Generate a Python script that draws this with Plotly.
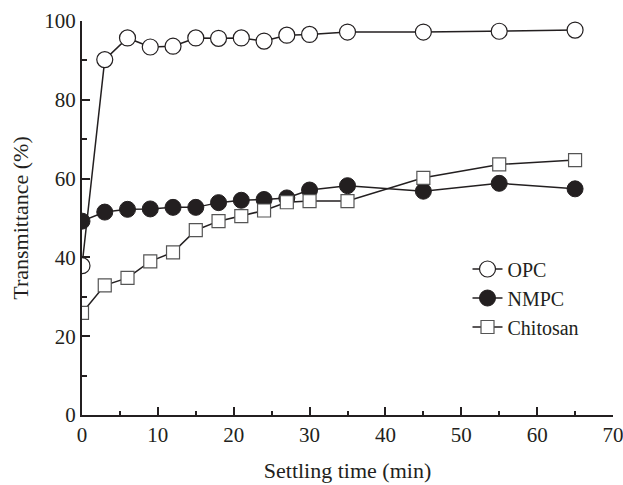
import plotly.graph_objects as go

time_min = [0, 3, 6, 9, 12, 15, 18, 21, 24, 27, 30, 35, 45, 55, 65]
opc = [37.9, 90.2, 95.7, 93.4, 93.6, 95.7, 95.6, 95.7, 94.9, 96.4, 96.6, 97.2, 97.2, 97.4, 97.7]
nmpc = [49.2, 51.5, 52.2, 52.3, 52.7, 52.7, 53.9, 54.5, 54.7, 55.1, 57.1, 58.2, 56.8, 58.8, 57.4]
chitosan = [25.9, 32.9, 34.8, 39.0, 41.3, 46.9, 49.2, 50.5, 51.9, 54.0, 54.3, 54.3, 60.2, 63.6, 64.7]

FONT = "Liberation Serif"
INK = "#231f20"

fig = go.Figure()
fig.add_trace(go.Scatter(
    x=time_min, y=opc, name="OPC", mode="lines+markers",
    line=dict(color=INK, width=1.5),
    marker=dict(symbol="circle", size=16, color="white", line=dict(color=INK, width=1.2)),
))
fig.add_trace(go.Scatter(
    x=time_min, y=nmpc, name="NMPC", mode="lines+markers",
    line=dict(color=INK, width=1.5),
    marker=dict(symbol="circle", size=16, color=INK, line=dict(color=INK, width=1)),
))
fig.add_trace(go.Scatter(
    x=time_min, y=chitosan, name="Chitosan", mode="lines+markers",
    line=dict(color=INK, width=1.5),
    marker=dict(symbol="square", size=13, color="white", line=dict(color="#555555", width=1.2)),
))

fig.update_layout(
    width=623, height=485,
    margin=dict(l=82, r=10, t=21, b=70),
    paper_bgcolor="white", plot_bgcolor="white",
    font=dict(family=FONT, size=21, color=INK),
    showlegend=True,
    legend=dict(
        x=0.726, y=0.42, xanchor="left", yanchor="top",
        bgcolor="rgba(0,0,0,0)", font=dict(family=FONT, size=20, color=INK),
        tracegroupgap=0, itemwidth=30,
    ),
    xaxis=dict(
        range=[0, 70], dtick=10, tick0=0, automargin=False,
        ticklabeloverflow="allow",
        ticks="inside", ticklen=8, tickwidth=1.5, tickcolor=INK,
        minor=dict(ticks="inside", ticklen=4, dtick=5, tickwidth=1.5, tickcolor=INK),
        showline=True, linecolor=INK, linewidth=2,
        showgrid=False, zeroline=False,
        tickfont=dict(family=FONT, size=21, color=INK),
        title=dict(text="Settling time (min)", font=dict(family=FONT, size=22, color=INK), standoff=16),
    ),
    yaxis=dict(
        range=[0, 100], dtick=20, tick0=0, automargin=False,
        ticklabeloverflow="allow",
        ticks="inside", ticklen=8, tickwidth=1.5, tickcolor=INK,
        minor=dict(ticks="inside", ticklen=5, dtick=10, tickwidth=1.5, tickcolor=INK),
        showline=True, linecolor=INK, linewidth=2,
        showgrid=False, zeroline=False,
        tickfont=dict(family=FONT, size=21, color=INK),
        title=dict(text="Transmittance (%)", font=dict(family=FONT, size=22, color=INK), standoff=10),
    ),
)

fig.write_html("out.html")
